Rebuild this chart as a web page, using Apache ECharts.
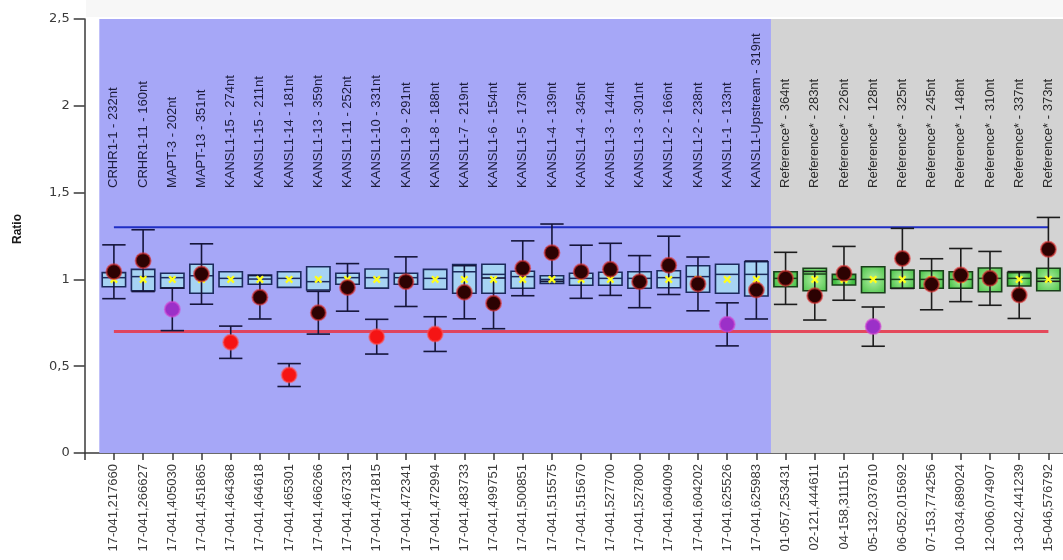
<!DOCTYPE html>
<html>
<head>
<meta charset="utf-8">
<script src="https://cdn.jsdelivr.net/npm/echarts@6/dist/echarts.min.js"></script>
<style>html,body{margin:0;padding:0;background:#fff}#c{width:1063px;height:560px}</style>
</head>
<body>
<div id="c"></div>
<script>
const topLabels = [
  'CRHR1-1 - 232nt','CRHR1-11 - 160nt','MAPT-3 - 202nt','MAPT-13 - 351nt',
  'KANSL1-15 - 274nt','KANSL1-15 - 211nt','KANSL1-14 - 181nt','KANSL1-13 - 359nt',
  'KANSL1-11 - 252nt','KANSL1-10 - 331nt','KANSL1-9 - 291nt','KANSL1-8 - 188nt',
  'KANSL1-7 - 219nt','KANSL1-6 - 154nt','KANSL1-5 - 173nt','KANSL1-4 - 139nt',
  'KANSL1-4 - 345nt','KANSL1-3 - 144nt','KANSL1-3 - 301nt','KANSL1-2 - 166nt',
  'KANSL1-2 - 238nt','KANSL1-1 - 133nt','KANSL1-Upstream - 319nt',
  'Reference* - 364nt','Reference* - 283nt','Reference* - 226nt','Reference* - 128nt',
  'Reference* - 325nt','Reference* - 245nt','Reference* - 148nt','Reference* - 310nt',
  'Reference* - 337nt','Reference* - 373nt'
];
const xLabels = [
  '17-041,217660','17-041,266627','17-041,405030','17-041,451865','17-041,464368',
  '17-041,464618','17-041,465301','17-041,466266','17-041,467331','17-041,471815',
  '17-041,472341','17-041,472994','17-041,483733','17-041,499751','17-041,500851',
  '17-041,515575','17-041,515670','17-041,527700','17-041,527800','17-041,604009',
  '17-041,604202','17-041,625526','17-041,625983',
  '01-057,253431','02-121,444611','04-158,311151','05-132,037610','06-052,015692',
  '07-153,774256','10-034,689024','12-006,074907','13-042,441239','15-046,576792'
];
const boxLow  = [0.958,0.935,0.949,0.920,0.958,0.972,0.954,0.939,0.972,0.950,0.972,0.943,0.920,0.920,0.949,0.977,0.966,0.966,0.949,0.952,0.926,0.920,0.904,0.958,0.935,0.968,0.923,0.949,0.949,0.949,0.929,0.962,0.935];
const boxMed  = [1.010,1.016,1.010,1.021,1.006,1.002,1.006,0.987,1.010,1.010,1.010,1.006,1.044,1.029,1.016,1.000,1.006,1.006,1.006,1.010,1.016,1.029,1.029,1.006,1.031,1.000,1.000,1.000,1.000,1.000,1.006,1.006,1.006];
const boxHigh = [1.039,1.058,1.035,1.087,1.044,1.025,1.044,1.073,1.035,1.060,1.035,1.058,1.085,1.087,1.047,1.021,1.035,1.041,1.044,1.050,1.079,1.087,1.102,1.044,1.064,1.029,1.073,1.054,1.050,1.044,1.066,1.039,1.064];
const meanVal = [1,1,1,1,1,1,1,1,1,1,1,1,1,1,1,1,1,1,1,1,1,1,1,1,1,1,1,1,1,1,1,1,1];
const sampleVal = [1.044,1.108,0.828,1.031,0.638,0.897,0.449,0.808,0.954,0.670,0.987,0.685,0.926,0.862,1.064,1.154,1.044,1.058,0.987,1.081,0.974,0.741,0.939,1.006,0.906,1.035,0.728,1.121,0.972,1.025,1.006,0.910,1.173];
const sampleErr = [0.155,0.178,0.123,0.174,0.093,0.125,0.066,0.123,0.137,0.100,0.143,0.100,0.153,0.146,0.158,0.165,0.153,0.150,0.150,0.168,0.155,0.124,0.167,0.150,0.140,0.155,0.113,0.173,0.147,0.153,0.155,0.135,0.184];
const sampleClass = ['n','n','p','n','r','n','r','n','n','r','n','r','n','n','n','n','n','n','n','n','n','p','n','n','n','n','p','n','n','n','n','n','n'];
const upperLimit = 1.3;
const lowerLimit = 0.7;
const yTicks = [0, 0.5, 1, 1.5, 2, 2.5];

const N = topLabels.length;
const REF_START = topLabels.findIndex(t => t.startsWith('Reference'));
const LABEL_Y = 1.527;
const FONT = '"Liberation Sans", Arial, sans-serif';

const chart = echarts.init(document.getElementById('c'));

const greenFill = new echarts.graphic.RadialGradient(0.5, 0.5, 0.75, [
  {offset: 0, color: '#b0f0a0'}, {offset: 1, color: '#44bf44'}
]);
const blueFill = '#a6d3f3';

function renderBox(params, api) {
  const i = api.value(0);
  const pl = api.coord([i, api.value(1)]);
  const pm = api.coord([i, api.value(2)]);
  const ph = api.coord([i, api.value(3)]);
  const w = api.size([1, 0])[0] * 0.8;
  const ref = i >= REF_START;
  const stroke = ref ? '#1a3f1a' : '#1c2a5c';
  return {type: 'group', children: [
    {type: 'rect', shape: {x: pl[0] - w / 2, y: ph[1], width: w, height: pl[1] - ph[1]},
     style: {fill: ref ? greenFill : blueFill, stroke: stroke, lineWidth: 1.6}},
    {type: 'line', shape: {x1: pl[0] - w / 2, y1: pm[1], x2: pl[0] + w / 2, y2: pm[1]},
     style: {stroke: stroke, lineWidth: 1.5}}
  ]};
}

function renderErr(params, api) {
  const i = api.value(0);
  const v = api.value(1), e = api.value(2);
  const pt = api.coord([i, v + e]);
  const pb = api.coord([i, v - e]);
  const w = api.size([1, 0])[0] * 0.8;
  const ref = i >= REF_START;
  const stroke = ref ? '#1c1c1c' : '#15153a';
  return {type: 'group', children: [
    {type: 'line', shape: {x1: pt[0], y1: pt[1], x2: pb[0], y2: pb[1]}, style: {stroke: stroke, lineWidth: 1.6}},
    {type: 'line', shape: {x1: pt[0] - w / 2, y1: pt[1], x2: pt[0] + w / 2, y2: pt[1]}, style: {stroke: stroke, lineWidth: 1.6}},
    {type: 'line', shape: {x1: pb[0] - w / 2, y1: pb[1], x2: pb[0] + w / 2, y2: pb[1]}, style: {stroke: stroke, lineWidth: 1.6}}
  ]};
}

function renderTopLabel(params, api) {
  const i = api.value(0);
  const p = api.coord([i, LABEL_Y]);
  return {type: 'text', x: p[0], y: p[1], rotation: Math.PI / 2,
    style: {text: topLabels[i], align: 'left', verticalAlign: 'middle', textAlign: 'left', textVerticalAlign: 'middle',
      font: '13px ' + FONT, fill: i >= REF_START ? '#2a2a2a' : '#1c1c3c'}};
}

const circleStyles = {
  n: {color: '#2c0202', borderColor: 'rgba(225,50,50,0.6)', borderWidth: 2, opacity: 1},
  r: {color: '#f51414', borderColor: 'rgba(255,80,80,0.55)', borderWidth: 2, opacity: 1},
  p: {color: '#9b30c8', borderColor: 'rgba(210,70,210,0.6)', borderWidth: 2, opacity: 1}
};

const starPath = 'path://M0,2 L2,0 L5,3 L8,0 L10,2 L7,5 L10,8 L8,10 L5,7 L2,10 L0,8 L3,5 Z';

chart.setOption({
  animation: false,
  backgroundColor: '#ffffff',
  grid: {left: 84.7, top: 19, width: 981.5, height: 434},
  graphic: [
    {type: 'rect', shape: {x: 86, y: 0, width: 977, height: 17}, style: {fill: '#f7f7f7'}, z: -10},
    {type: 'text', x: 18, y: 229, rotation: Math.PI / 2,
     style: {text: 'Ratio', font: 'bold 12px ' + FONT, align: 'center', verticalAlign: 'middle',
       textAlign: 'center', textVerticalAlign: 'middle', fill: '#1a1a1a'}}
  ],
  xAxis: {
    type: 'value', min: -1, max: N - 0.5, interval: 1,
    splitLine: {show: false},
    axisLine: {show: true, onZero: false, lineStyle: {color: '#3a3a3a', width: 1.5}},
    axisTick: {show: true, length: 7, lineStyle: {color: '#3a3a3a', width: 1.5}},
    axisLabel: {
      rotate: 90, margin: 11, fontSize: 13, fontFamily: FONT, color: '#3a3a3a',
      showMaxLabel: false,
      formatter: v => (Number.isInteger(v) && v >= 0 && v < N) ? xLabels[v] : ''
    }
  },
  yAxis: {
    type: 'value', min: yTicks[0], max: yTicks[yTicks.length - 1], interval: yTicks[1] - yTicks[0],
    splitLine: {show: false},
    axisLine: {show: true, onZero: false, lineStyle: {color: '#3a3a3a', width: 1.5}},
    axisTick: {show: true, length: 11, lineStyle: {color: '#3a3a3a', width: 1.5}},
    axisLabel: {margin: 15, fontSize: 13, fontFamily: '"DejaVu Sans", sans-serif', color: '#3a3a3a',
      formatter: v => String(v).replace('.', ',')}
  },
  series: [
    {
      type: 'line', data: [], z: 1, silent: true,
      markArea: {silent: true, data: [
        [{xAxis: -0.5, yAxis: yTicks[0], itemStyle: {color: '#a6a7f7'}}, {xAxis: REF_START - 0.5, yAxis: yTicks[yTicks.length - 1]}],
        [{xAxis: REF_START - 0.5, yAxis: yTicks[0], itemStyle: {color: '#d3d3d3'}}, {xAxis: N - 0.5, yAxis: yTicks[yTicks.length - 1]}]
      ]}
    },
    {
      type: 'custom', z: 2, renderItem: renderTopLabel, silent: true,
      data: topLabels.map((t, i) => [i])
    },
    {
      type: 'line', z: 3, symbol: 'none', silent: true,
      data: [[0, upperLimit], [N - 1, upperLimit]],
      lineStyle: {color: '#1f2ec4', width: 2}
    },
    {
      type: 'line', z: 3, symbol: 'none', silent: true,
      data: [[0, lowerLimit], [N - 1, lowerLimit]],
      lineStyle: {color: '#e63a4e', width: 3, opacity: 0.9}
    },
    {
      type: 'custom', z: 4, renderItem: renderBox,
      data: boxLow.map((v, i) => [i, v, boxMed[i], boxHigh[i]])
    },
    {
      type: 'custom', z: 5, renderItem: renderErr,
      data: sampleVal.map((v, i) => [i, v, sampleErr[i]])
    },
    {
      type: 'scatter', z: 6, symbol: starPath, symbolSize: 8,
      itemStyle: {color: '#ffff1a', opacity: 1},
      data: meanVal.map((v, i) => [i, v])
    },
    {
      type: 'scatter', z: 7, symbol: 'circle', symbolSize: 15,
      data: sampleVal.map((v, i) => ({value: [i, v], itemStyle: circleStyles[sampleClass[i]]}))
    }
  ]
});
</script>
</body>
</html>
